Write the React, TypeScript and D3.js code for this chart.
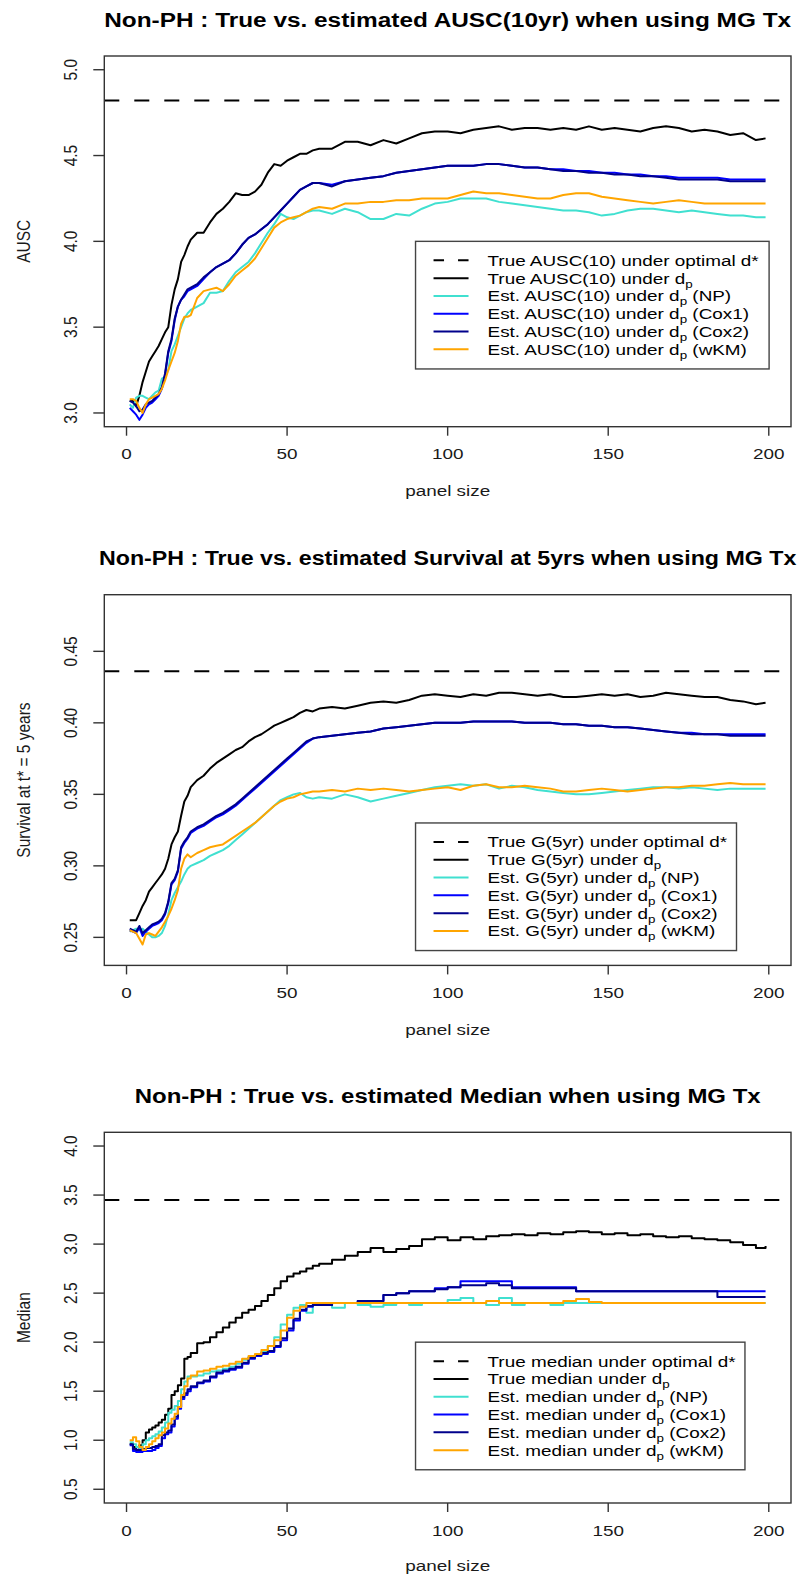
import React from 'react';
import * as d3 from 'd3';

// ---------- DATA ----------
const panelSize = [
  1, 2, 3, 4, 5, 6, 7, 8, 9, 10, 11, 12, 13, 14, 15, 16, 17, 18, 19, 20,
  22, 24, 26, 28, 30, 32, 34, 36, 38, 40, 42, 44, 46, 48, 50, 52, 54, 56, 58, 60,
  64, 68, 72, 76, 80, 84, 88, 92, 96, 100, 104, 108, 112, 116, 120, 124, 128, 132, 136, 140,
  144, 148, 152, 156, 160, 164, 168, 172, 176, 180, 184, 188, 192, 196,
  199,
];

const xTicks = [0, 50, 100, 150, 200];
const auscTicks = [3.0, 3.5, 4.0, 4.5, 5.0];
const survTicks = [0.25, 0.3, 0.35, 0.4, 0.45];
const medianTicks = [0.5, 1.0, 1.5, 2.0, 2.5, 3.0, 3.5, 4.0];

// Panel 1: AUSC(10yr)
const auscOptimal = 4.82;
const auscTrueDp = [
  3.07, 3.07, 3.04, 3.10, 3.18, 3.24, 3.30, 3.33, 3.36, 3.39, 3.43, 3.47, 3.50, 3.63, 3.72, 3.78, 3.88, 3.92, 3.97, 4.01,
  4.05, 4.05, 4.11, 4.16, 4.19, 4.23, 4.28, 4.27, 4.27, 4.29, 4.33, 4.40, 4.45, 4.44, 4.47, 4.49, 4.51, 4.51, 4.53, 4.54,
  4.54, 4.58, 4.58, 4.56, 4.59, 4.57, 4.60, 4.63, 4.64, 4.64, 4.63, 4.65, 4.66, 4.67, 4.65, 4.66, 4.66, 4.65, 4.66, 4.65,
  4.67, 4.65, 4.66, 4.65, 4.64, 4.66, 4.67, 4.66, 4.64, 4.65, 4.64, 4.62, 4.63, 4.59,
  4.60,
];
const auscNP = [
  3.05, 3.03, 3.09, 3.10, 3.10, 3.09, 3.08, 3.10, 3.12, 3.13, 3.20, 3.21, 3.25, 3.36, 3.40, 3.45, 3.50, 3.55, 3.58, 3.60,
  3.62, 3.64, 3.70, 3.70, 3.71, 3.77, 3.82, 3.85, 3.88, 3.93, 3.99, 4.05, 4.10, 4.16, 4.14, 4.13, 4.15, 4.17, 4.18, 4.18,
  4.16, 4.19, 4.17, 4.13, 4.13, 4.16, 4.15, 4.19, 4.22, 4.23, 4.25, 4.25, 4.25, 4.23, 4.22, 4.21, 4.20, 4.19, 4.18, 4.18,
  4.17, 4.15, 4.16, 4.18, 4.19, 4.19, 4.18, 4.17, 4.18, 4.17, 4.16, 4.15, 4.15, 4.14,
  4.14,
];
const auscCox1 = [
  3.03, 3.01, 2.99, 2.96, 2.99, 3.03, 3.05, 3.06, 3.08, 3.10, 3.14, 3.22, 3.35, 3.42, 3.54, 3.62, 3.66, 3.68, 3.71, 3.72,
  3.74, 3.78, 3.82, 3.85, 3.87, 3.89, 3.93, 3.98, 4.02, 4.04, 4.07, 4.10, 4.14, 4.18, 4.22, 4.26, 4.30, 4.32, 4.34, 4.34,
  4.33, 4.35, 4.36, 4.37, 4.38, 4.40, 4.41, 4.42, 4.43, 4.44, 4.44, 4.44, 4.45, 4.45, 4.44, 4.43, 4.43, 4.42, 4.42, 4.41,
  4.41, 4.40, 4.40, 4.39, 4.39, 4.38, 4.38, 4.37, 4.37, 4.37, 4.37, 4.36, 4.36, 4.36,
  4.36,
];
const auscCox2 = [
  3.07, 3.06, 3.04, 3.01, 3.02, 3.05, 3.06, 3.07, 3.09, 3.11, 3.15, 3.23, 3.36, 3.43, 3.55, 3.62, 3.66, 3.69, 3.72, 3.73,
  3.75, 3.79, 3.82, 3.85, 3.87, 3.89, 3.93, 3.98, 4.02, 4.04, 4.07, 4.10, 4.14, 4.18, 4.22, 4.26, 4.30, 4.32, 4.34, 4.34,
  4.32, 4.35, 4.36, 4.37, 4.38, 4.40, 4.41, 4.42, 4.43, 4.44, 4.44, 4.44, 4.45, 4.45, 4.44, 4.43, 4.43, 4.42, 4.41, 4.41,
  4.40, 4.40, 4.39, 4.39, 4.38, 4.38, 4.37, 4.36, 4.36, 4.36, 4.36, 4.35, 4.35, 4.35,
  4.35,
];
const auscWKM = [
  3.08, 3.08, 3.07, 3.03, 3.00, 3.05, 3.08, 3.09, 3.10, 3.11, 3.14, 3.19, 3.25, 3.30, 3.35, 3.42, 3.52, 3.56, 3.56, 3.57,
  3.67, 3.71, 3.72, 3.73, 3.71, 3.75, 3.80, 3.83, 3.86, 3.90, 3.96, 4.02, 4.08, 4.11, 4.13, 4.14, 4.15, 4.17, 4.19, 4.20,
  4.19, 4.22, 4.22, 4.23, 4.23, 4.24, 4.24, 4.25, 4.25, 4.25, 4.27, 4.29, 4.28, 4.28, 4.27, 4.26, 4.25, 4.25, 4.27, 4.28,
  4.28, 4.26, 4.25, 4.24, 4.23, 4.22, 4.23, 4.24, 4.23, 4.22, 4.22, 4.22, 4.22, 4.22,
  4.22,
];

// Panel 2: Survival at 5 years
const survOptimal = 0.436;
const survTrueDp = [
  0.262, 0.262, 0.262, 0.267, 0.272, 0.276, 0.282, 0.285, 0.288, 0.291, 0.294, 0.298, 0.305, 0.315, 0.320, 0.324, 0.335, 0.345, 0.349, 0.355,
  0.360, 0.363, 0.368, 0.372, 0.375, 0.378, 0.381, 0.383, 0.387, 0.390, 0.392, 0.395, 0.398, 0.400, 0.402, 0.404, 0.407, 0.409, 0.408, 0.410,
  0.411, 0.410, 0.412, 0.414, 0.415, 0.414, 0.416, 0.419, 0.420, 0.419, 0.418, 0.420, 0.419, 0.421, 0.421, 0.420, 0.419, 0.420, 0.418, 0.418,
  0.419, 0.420, 0.419, 0.420, 0.418, 0.419, 0.421, 0.420, 0.419, 0.418, 0.418, 0.416, 0.415, 0.413,
  0.414,
];
const survNP = [
  0.254, 0.255, 0.256, 0.255, 0.256, 0.254, 0.252, 0.250, 0.250, 0.251, 0.253, 0.258, 0.266, 0.276, 0.281, 0.285, 0.289, 0.294, 0.298, 0.300,
  0.302, 0.304, 0.307, 0.309, 0.311, 0.314, 0.318, 0.322, 0.326, 0.330, 0.334, 0.338, 0.342, 0.346, 0.348, 0.350, 0.351, 0.348, 0.347, 0.348,
  0.347, 0.350, 0.348, 0.345, 0.347, 0.349, 0.351, 0.353, 0.355, 0.356, 0.357, 0.356, 0.357, 0.354, 0.356, 0.355, 0.353, 0.352, 0.351, 0.350,
  0.350, 0.351, 0.352, 0.353, 0.354, 0.355, 0.355, 0.354, 0.355, 0.354, 0.353, 0.354, 0.354, 0.354,
  0.354,
];
const survCox1 = [
  0.255, 0.254, 0.253, 0.257, 0.251, 0.254, 0.256, 0.258, 0.259, 0.260, 0.262, 0.266, 0.274, 0.287, 0.290, 0.296, 0.312, 0.316, 0.319, 0.323,
  0.326, 0.328, 0.331, 0.334, 0.336, 0.339, 0.342, 0.346, 0.350, 0.354, 0.358, 0.362, 0.366, 0.370, 0.374, 0.378, 0.382, 0.386, 0.389, 0.390,
  0.391, 0.392, 0.393, 0.394, 0.396, 0.397, 0.398, 0.399, 0.400, 0.400, 0.400, 0.401, 0.401, 0.401, 0.401, 0.400, 0.400, 0.400, 0.399, 0.399,
  0.398, 0.398, 0.397, 0.397, 0.396, 0.395, 0.394, 0.393, 0.393, 0.392, 0.392, 0.392, 0.392, 0.392,
  0.392,
];
const survCox2 = [
  0.256, 0.255, 0.254, 0.258, 0.253, 0.255, 0.257, 0.259, 0.260, 0.261, 0.263, 0.267, 0.275, 0.288, 0.291, 0.297, 0.313, 0.317, 0.320, 0.324,
  0.327, 0.329, 0.332, 0.335, 0.337, 0.340, 0.343, 0.347, 0.351, 0.355, 0.359, 0.363, 0.367, 0.371, 0.375, 0.379, 0.383, 0.387, 0.389, 0.390,
  0.391, 0.392, 0.393, 0.394, 0.396, 0.397, 0.398, 0.399, 0.400, 0.400, 0.400, 0.401, 0.401, 0.401, 0.401, 0.400, 0.400, 0.400, 0.399, 0.399,
  0.398, 0.398, 0.397, 0.397, 0.396, 0.395, 0.394, 0.393, 0.392, 0.392, 0.392, 0.391, 0.391, 0.391,
  0.391,
];
const survWKM = [
  0.255, 0.254, 0.253, 0.249, 0.245, 0.252, 0.253, 0.252, 0.251, 0.254, 0.257, 0.261, 0.265, 0.270, 0.276, 0.283, 0.298, 0.305, 0.308, 0.306,
  0.309, 0.311, 0.313, 0.314, 0.315, 0.318, 0.321, 0.324, 0.327, 0.330, 0.334, 0.338, 0.342, 0.345, 0.347, 0.348, 0.350, 0.351, 0.352, 0.352,
  0.353, 0.352, 0.354, 0.353, 0.354, 0.353, 0.352, 0.353, 0.354, 0.355, 0.353, 0.356, 0.357, 0.355, 0.355, 0.356, 0.355, 0.354, 0.352, 0.352,
  0.353, 0.354, 0.353, 0.352, 0.353, 0.354, 0.355, 0.355, 0.356, 0.356, 0.357, 0.358, 0.357, 0.357,
  0.357,
];

// Panel 3: Median
const medianOptimal = 3.45;
const medianTrueDp = [
  0.96, 0.93, 0.90, 0.95, 1.00, 1.08, 1.11, 1.13, 1.15, 1.18, 1.21, 1.26, 1.32, 1.46, 1.50, 1.56, 1.63, 1.83, 1.85, 1.89,
  1.99, 2.00, 2.05, 2.10, 2.15, 2.20, 2.25, 2.30, 2.33, 2.37, 2.42, 2.48, 2.55, 2.62, 2.67, 2.70, 2.72, 2.75, 2.78, 2.80,
  2.84, 2.88, 2.92, 2.96, 2.92, 2.95, 2.98, 3.05, 3.07, 3.04, 3.07, 3.05, 3.08, 3.09, 3.10, 3.09, 3.11, 3.10, 3.12, 3.13,
  3.12, 3.10, 3.11, 3.09, 3.10, 3.08, 3.07, 3.08, 3.06, 3.05, 3.04, 3.02, 2.99, 2.96,
  2.98,
];
const medianNP = [
  0.98, 0.96, 0.93, 0.91, 0.96, 1.00, 1.02, 1.04, 1.06, 1.09, 1.13, 1.18, 1.28, 1.31, 1.35, 1.40, 1.52, 1.60, 1.65, 1.65,
  1.66, 1.68, 1.70, 1.71, 1.73, 1.75, 1.78, 1.82, 1.85, 1.87, 1.90, 1.96, 2.05, 2.18, 2.28, 2.35, 2.38, 2.30, 2.38, 2.40,
  2.35, 2.40, 2.38, 2.36, 2.38, 2.40, 2.38, 2.40, 2.40, 2.43, 2.45, 2.40, 2.38, 2.45, 2.38, 2.40, 2.40, 2.38, 2.40, 2.40,
  2.40, 2.40, 2.40, 2.40, 2.40, 2.40, 2.40, 2.40, 2.40, 2.40, 2.40, 2.40, 2.40, 2.40,
  2.40,
];
const medianCox1 = [
  0.95, 0.89, 0.88, 0.88, 0.89, 0.89, 0.89, 0.90, 0.92, 0.94, 1.02, 1.06, 1.08, 1.14, 1.22, 1.32, 1.42, 1.46, 1.50, 1.54,
  1.58, 1.60, 1.64, 1.68, 1.70, 1.72, 1.74, 1.78, 1.83, 1.86, 1.88, 1.90, 1.95, 2.02, 2.12, 2.22, 2.32, 2.36, 2.38, 2.38,
  2.40, 2.40, 2.42, 2.42, 2.48, 2.50, 2.52, 2.52, 2.55, 2.56, 2.62, 2.62, 2.62, 2.62, 2.56, 2.56, 2.56, 2.56, 2.56, 2.52,
  2.52, 2.52, 2.52, 2.52, 2.52, 2.52, 2.52, 2.52, 2.52, 2.52, 2.52, 2.52, 2.52, 2.52,
  2.52,
];
const medianCox2 = [
  0.96, 0.91, 0.90, 0.90, 0.91, 0.92, 0.92, 0.93, 0.94, 0.96, 1.05, 1.08, 1.10, 1.16, 1.24, 1.34, 1.44, 1.48, 1.52, 1.55,
  1.59, 1.61, 1.65, 1.69, 1.71, 1.73, 1.75, 1.79, 1.84, 1.87, 1.89, 1.91, 1.96, 2.04, 2.14, 2.24, 2.33, 2.37, 2.38, 2.38,
  2.40, 2.40, 2.42, 2.42, 2.48, 2.50, 2.52, 2.52, 2.54, 2.56, 2.58, 2.58, 2.60, 2.58, 2.55, 2.55, 2.55, 2.55, 2.55, 2.52,
  2.52, 2.52, 2.52, 2.52, 2.52, 2.52, 2.52, 2.52, 2.52, 2.52, 2.46, 2.46, 2.46, 2.46,
  2.46,
];
const medianWKM = [
  1.00, 1.03, 0.99, 0.93, 0.90, 0.93, 0.96, 0.99, 1.02, 1.05, 1.08, 1.12, 1.17, 1.22, 1.27, 1.34, 1.46, 1.55, 1.63, 1.66,
  1.70, 1.71, 1.73, 1.75, 1.76, 1.78, 1.80, 1.83, 1.86, 1.88, 1.92, 1.96, 2.02, 2.12, 2.25, 2.32, 2.36, 2.40, 2.40, 2.40,
  2.40, 2.40, 2.40, 2.40, 2.40, 2.40, 2.40, 2.40, 2.40, 2.40, 2.40, 2.40, 2.42, 2.40, 2.40, 2.40, 2.40, 2.40, 2.42, 2.44,
  2.41, 2.40, 2.40, 2.40, 2.40, 2.40, 2.40, 2.40, 2.40, 2.40, 2.40, 2.40, 2.40, 2.40,
  2.40,
];

const methodTags = ['NP', 'Cox1', 'Cox2', 'wKM'];
const estColors = ['#40E0D0', '#0000FF', '#00008B', '#FFA500'];

// ---------- LAYOUT ----------
const FONT = "'Liberation Sans', Arial, Helvetica, sans-serif";
const SX = 1.22;
const BASE = 15.5;
const TITLE_SIZE = 19.5;
const SUB_SIZE = 11;
const LEFT = 104.3;
const RIGHT = 791;
const H = 370.7;

let ctx: CanvasRenderingContext2D | null = null;
function textW(s: string, size: number, weight = 'normal') {
  if (!ctx) {
    const c = document.createElement('canvas');
    ctx = c.getContext('2d');
  }
  if (!ctx) return s.length * size * 0.5;
  ctx.font = `${weight} ${size}px ${FONT}`;
  return ctx.measureText(s).width;
}

function Txt({ x, y, anchor = 'middle', size = BASE, weight = 'normal', rotate = false, sx = SX, fill = '#1a1a1a', children }: any) {
  return (
    <text
      transform={`translate(${x},${y}) scale(${sx},1)${rotate ? ' rotate(-90)' : ''}`}
      textAnchor={anchor}
      fontSize={size}
      fontWeight={weight}
      fontFamily={FONT}
      fill={fill}
    >
      {children}
    </text>
  );
}

type PanelProps = {
  top: number;
  title: string;
  titleSx: number;
  yLabel: string;
  yLim: [number, number];
  yTicks: number[];
  fmt: (v: number) => string;
  optimal: number;
  trueDp: number[];
  est: number[][];
  quantity: string;
  legendAt: [number, number];
  curve: any;
  xLabelOffset: number;
};

function Panel({ top, title, titleSx, yLabel, yLim, yTicks, fmt, optimal, trueDp, est, quantity, legendAt, curve, xLabelOffset }: PanelProps) {
  const bottom = top + H;
  const xr = 199 - 1;
  const x = d3.scaleLinear().domain([1 - 0.04 * xr, 199 + 0.04 * xr]).range([LEFT, RIGHT]);
  const ext = 0.04 * (yLim[1] - yLim[0]);
  const y = d3.scaleLinear().domain([yLim[0] - ext, yLim[1] + ext]).range([bottom, top]);
  const line = d3
    .line<number>()
    .x((_, i) => x(panelSize[i]))
    .y((d) => y(d))
    .curve(curve);
  const cx = (LEFT + RIGHT) / 2;

  // legend
  const rows = [
    { pre: `True ${quantity} under optimal d*`, sub: '', post: '', color: '#000', dash: true },
    { pre: `True ${quantity} under d`, sub: 'p', post: '', color: '#000', dash: false },
    ...methodTags.map((t, i) => ({ pre: `Est. ${quantity} under d`, sub: 'p', post: ` (${t})`, color: estColors[i], dash: false })),
  ];
  const lx = x(legendAt[0]);
  const ly = y(legendAt[1]);
  const textX = lx + 72;
  const maxW = d3.max(rows, (r) => (textW(r.pre, BASE) + (r.sub ? textW(r.sub, SUB_SIZE) : 0) + textW(r.post, BASE)) * SX) as number;
  const lw = textX - lx + maxW + 9;
  const lh = 127.6;
  const rowY = (i: number) => ly + 19 + i * 17.8;

  return (
    <g>
      <Txt x={cx} y={top - 29.5} size={TITLE_SIZE} weight="bold" sx={titleSx} fill="#000">
        {title}
      </Txt>
      {/* reference line */}
      <line x1={LEFT} x2={RIGHT} y1={y(optimal)} y2={y(optimal)} stroke="#000" strokeWidth={2} strokeDasharray="15 15" />
      {/* series */}
      <path d={line(trueDp) as string} fill="none" stroke="#000" strokeWidth={2} strokeLinejoin="round" />
      {est.map((s, i) => (
        <path key={i} d={line(s) as string} fill="none" stroke={estColors[i]} strokeWidth={2} strokeLinejoin="round" />
      ))}
      {/* box */}
      <rect x={LEFT} y={top} width={RIGHT - LEFT} height={H} fill="none" stroke="#333" strokeWidth={1.4} />
      {/* x axis */}
      {xTicks.map((t) => (
        <g key={t}>
          <line x1={x(t)} x2={x(t)} y1={bottom} y2={bottom + 9} stroke="#333" strokeWidth={1.4} />
          <Txt x={x(t)} y={bottom + 32.5}>
            {t}
          </Txt>
        </g>
      ))}
      <Txt x={cx} y={bottom + xLabelOffset}>
        panel size
      </Txt>
      {/* y axis */}
      {yTicks.map((t) => (
        <g key={t}>
          <line x1={LEFT - 11} x2={LEFT} y1={y(t)} y2={y(t)} stroke="#333" strokeWidth={1.4} />
          <Txt x={77} y={y(t)} rotate>
            {fmt(t)}
          </Txt>
        </g>
      ))}
      <Txt x={30} y={(top + bottom) / 2} rotate>
        {yLabel}
      </Txt>
      {/* legend */}
      <rect x={lx} y={ly} width={lw} height={lh} fill="#fff" stroke="#444" strokeWidth={1.4} />
      {rows.map((r, i) => (
        <g key={i}>
          <line
            x1={lx + 18}
            x2={lx + 53}
            y1={rowY(i)}
            y2={rowY(i)}
            stroke={r.color}
            strokeWidth={2}
            strokeDasharray={r.dash ? '10.5 14' : undefined}
          />
          <text
            transform={`translate(${textX},${rowY(i) + 5.5}) scale(${SX},1)`}
            fontSize={BASE}
            fontFamily={FONT}
            fill="#000"
          >
            <tspan>{r.pre}</tspan>
            {r.sub ? (
              <tspan fontSize={SUB_SIZE} dy={4}>
                {r.sub}
              </tspan>
            ) : null}
            {r.post ? <tspan dy={r.sub ? -4 : 0}>{r.post}</tspan> : null}
          </text>
        </g>
      ))}
    </g>
  );
}

export default function App() {
  const f1 = (v: number) => v.toFixed(1);
  const f2 = (v: number) => v.toFixed(2);
  return (
    <svg
      width={808}
      height={1575}
      viewBox="0 0 808 1575"
      style={{ position: 'absolute', left: 0, top: 0, background: '#fff' }}
    >
      <rect x={0} y={0} width={808} height={1575} fill="#fff" />
      <Panel
        top={56}
        title="Non-PH : True vs. estimated AUSC(10yr) when using MG Tx"
        titleSx={1.25}
        yLabel="AUSC"
        yLim={[3, 5]}
        yTicks={auscTicks}
        fmt={f1}
        optimal={auscOptimal}
        trueDp={auscTrueDp}
        est={[auscNP, auscCox1, auscCox2, auscWKM]}
        quantity="AUSC(10)"
        legendAt={[90, 4.0]}
        curve={d3.curveLinear}
        xLabelOffset={69.5}
      />
      <Panel
        top={594.7}
        title="Non-PH : True vs. estimated Survival at 5yrs when using MG Tx"
        titleSx={1.19}
        yLabel="Survival at t* = 5 years"
        yLim={[0.24, 0.48]}
        yTicks={survTicks}
        fmt={f2}
        optimal={survOptimal}
        trueDp={survTrueDp}
        est={[survNP, survCox1, survCox2, survWKM]}
        quantity="G(5yr)"
        legendAt={[90, 0.33]}
        curve={d3.curveLinear}
        xLabelOffset={69.5}
      />
      <Panel
        top={1132.3}
        title="Non-PH : True vs. estimated Median when using MG Tx"
        titleSx={1.23}
        yLabel="Median"
        yLim={[0.5, 4.0]}
        yTicks={medianTicks}
        fmt={f1}
        optimal={medianOptimal}
        trueDp={medianTrueDp}
        est={[medianNP, medianCox1, medianCox2, medianWKM]}
        quantity="median"
        legendAt={[90, 2.0]}
        curve={d3.curveStepAfter}
        xLabelOffset={67.5}
      />
    </svg>
  );
}
